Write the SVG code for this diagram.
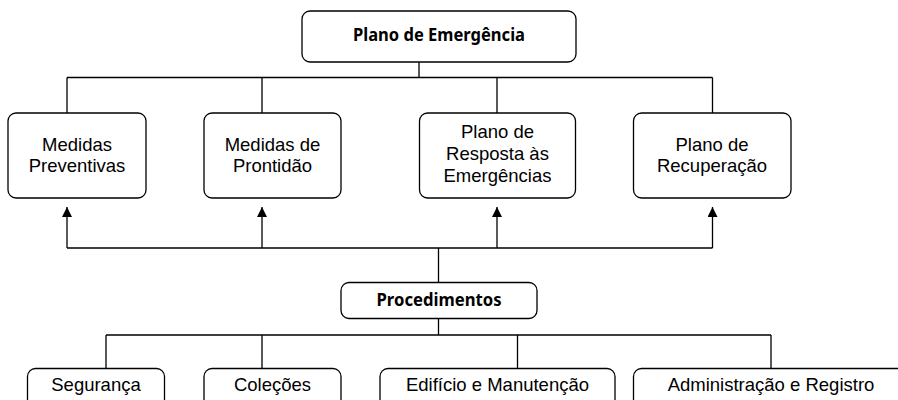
<svg xmlns="http://www.w3.org/2000/svg" width="898" height="400" viewBox="0 0 898 400">
<defs>
<marker id="arr" viewBox="0 0 10 10" refX="10" refY="5" markerWidth="10" markerHeight="10" markerUnits="userSpaceOnUse" orient="auto">
<path d="M0,0 L10,5 L0,10 Z" fill="#000"/>
</marker>
<style>
.box{fill:#fff;stroke:#000;stroke-width:1.3}
.t{font-family:"Liberation Sans",Arial,sans-serif;font-size:18.5px;fill:#000;text-anchor:middle}
.b{font-family:"Noto Sans","Open Sans",sans-serif;font-size:17px;font-weight:bold;fill:#000;text-anchor:middle}
.c{fill:none;stroke:#000;stroke-width:1.3}
</style>
</defs>
<rect width="898" height="400" fill="#fff"/>
<g id="connectors">
<path class="c" d="M419,62 V77.5 M67,77.5 H712.5 M67,77.5 V113 M262,77.5 V113 M497,77.5 V113 M712.5,77.5 V113"/>
<path class="c" d="M438.5,282.5 V248 M67,248 H712.5"/>
<path class="c" d="M67,248 V207" marker-end="url(#arr)"/>
<path class="c" d="M262,248 V207" marker-end="url(#arr)"/>
<path class="c" d="M497,248 V207" marker-end="url(#arr)"/>
<path class="c" d="M712.5,248 V207" marker-end="url(#arr)"/>
<path class="c" d="M438.5,318.5 V335 M106,335 H771 M106,335 V368.5 M262,335 V368.5 M517.5,335 V368.5 M771,335 V368.5"/>
</g>
<g id="plano-emergencia">
<rect class="box" x="302" y="11" width="274" height="51" rx="8"/>
<text class="b" x="439" y="41" textLength="172" lengthAdjust="spacingAndGlyphs">Plano de Emergência</text>
</g>
<g id="medidas-preventivas">
<rect class="box" x="8" y="113" width="138" height="85" rx="8"/>
<text class="t" x="77" y="151">Medidas</text>
<text class="t" x="77" y="172">Preventivas</text>
</g>
<g id="medidas-prontidao">
<rect class="box" x="204" y="113" width="137" height="85" rx="8"/>
<text class="t" x="272.5" y="151">Medidas de</text>
<text class="t" x="272.5" y="172">Prontidão</text>
</g>
<g id="plano-resposta">
<rect class="box" x="419.5" y="113" width="156" height="85" rx="8"/>
<text class="t" x="497.5" y="138">Plano de</text>
<text class="t" x="497.5" y="160">Resposta às</text>
<text class="t" x="497.5" y="182">Emergências</text>
</g>
<g id="plano-recuperacao">
<rect class="box" x="633.5" y="113" width="157.5" height="85" rx="8"/>
<text class="t" x="712" y="151">Plano de</text>
<text class="t" x="712" y="172">Recuperação</text>
</g>
<g id="procedimentos">
<rect class="box" x="341" y="282.5" width="196" height="36" rx="8"/>
<text class="b" x="439" y="306" textLength="125" lengthAdjust="spacingAndGlyphs">Procedimentos</text>
</g>
<g id="seguranca">
<rect class="box" x="27.5" y="368.5" width="137" height="45" rx="8"/>
<text class="t" x="96" y="391">Segurança</text>
</g>
<g id="colecoes">
<rect class="box" x="204" y="368.5" width="137" height="45" rx="8"/>
<text class="t" x="272.5" y="391">Coleções</text>
</g>
<g id="edificio">
<rect class="box" x="380" y="368.5" width="235" height="45" rx="8"/>
<text class="t" x="497.5" y="391">Edifício e Manutenção</text>
</g>
<g id="administracao">
<rect class="box" x="633.5" y="368.5" width="275" height="45" rx="8"/>
<text class="t" x="771" y="391">Administração e Registro</text>
</g>
</svg>
